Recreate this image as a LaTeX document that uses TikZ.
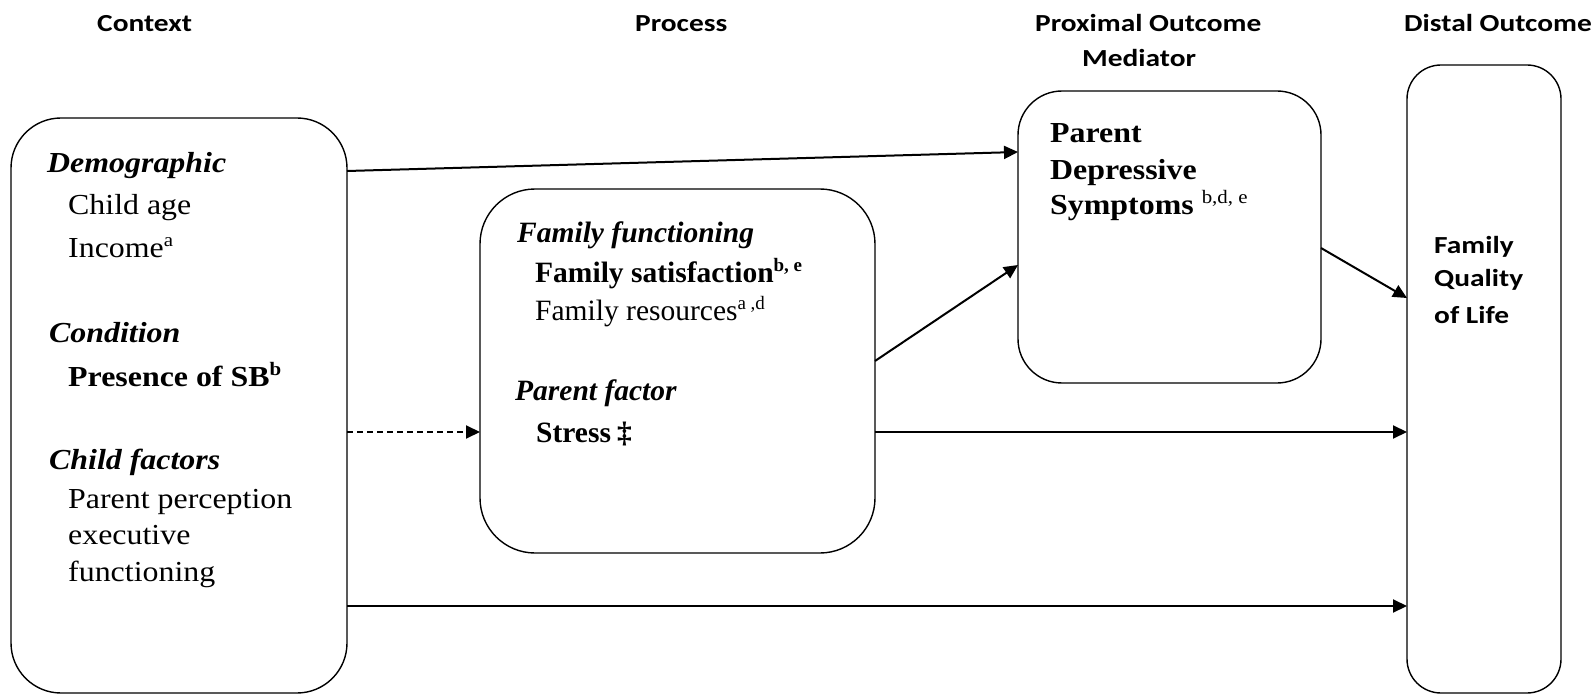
\documentclass[tikz,border=0pt]{standalone}
\usepackage{fontspec}
\setmainfont{Liberation Serif}
\newfontfamily\widefont{Liberation Serif}[FakeStretch=1.1]
\newfontfamily\hdrfont{Carlito}[FakeStretch=1.2]
\usetikzlibrary{arrows.meta}
\newcommand\widefs{\widefont\fontsize{29}{34}\selectfont}
\newcommand\procfs{\fontsize{29.5}{34}\selectfont}
\newcommand\sups[1]{\raisebox{11pt}{\fontsize{19}{19}\selectfont #1}}
\begin{document}
\begin{tikzpicture}[x=1pt,y=-1pt,
  box/.style={draw, line width=1.4pt, inner sep=0pt, outer sep=0pt},
  arr/.style={line width=2pt, -{Triangle[length=14pt,width=13pt]}},
  dasharr/.style={arr, dash pattern=on 6pt off 4pt},
  hdr/.style={anchor=base west, inner sep=0pt, font=\hdrfont\bfseries\fontsize{24.5}{30}\selectfont},
  rg/.style={anchor=base west, inner sep=0pt, font=\widefs},
  bd/.style={anchor=base west, inner sep=0pt, font=\widefs\bfseries},
  bi/.style={anchor=base west, inner sep=0pt, font=\widefs\bfseries\itshape},
  prg/.style={anchor=base west, inner sep=0pt, font=\procfs},
  pbd/.style={anchor=base west, inner sep=0pt, font=\procfs\bfseries},
  pbi/.style={anchor=base west, inner sep=0pt, font=\procfs\bfseries\itshape}]
\useasboundingbox (0,0) rectangle (1596,695);

% boxes
\node[box, rounded corners=50pt, minimum width=336pt, minimum height=575pt] (ctx) at (179,405.5) {};
\node[box, rounded corners=55pt, minimum width=395pt, minimum height=364pt] (proc) at (677.5,371) {};
\node[box, rounded corners=44pt, minimum width=303pt, minimum height=292pt] (med) at (1169.5,237) {};
\node[box, rounded corners=34pt, minimum width=154pt, minimum height=628pt] (dist) at (1484,379) {};

% headers
\node[hdr] (h1) at (97,32) {Context};
\node[hdr] (h2) at (635,32) {Process};
\node[hdr] (h3) at (1035,32) {Proximal Outcome};
\node[hdr] (h3b) at (1082,67) {Mediator};
\node[hdr] (h4) at (1404,32) {Distal Outcome};

% context text
\node[bi] (c1) at (47,173) {Demographic};
\node[rg] (c2) at (68,215) {Child age};
\node[rg] (c3) at (68,258) {Income\sups{a}};
\node[bi] (c4) at (49,342) {Condition};
\node[bd] (c5) at (68,386) {Presence of SB\sups{b}};
\node[bi] (c6) at (49,469) {Child factors};
\node[rg] (c7) at (68,508) {Parent perception};
\node[rg] (c8) at (68,544) {executive};
\node[rg] (c9) at (68,581) {functioning};

% process text
\node[pbi] (p1) at (517,243) {Family functioning};
\node[pbd] (p2) at (535,283) {Family satisfaction\sups{b, e}};
\node[prg] (p3) at (535,320) {Family resources\sups{a ,d}};
\node[pbi] (p4) at (515,400) {Parent factor};
\node[pbd] (p5) at (536,442) {Stress\hspace{6pt}‡};

% mediator text
\node[bd] (m1) at (1050,143) {Parent};
\node[bd] (m2) at (1050,180) {Depressive};
\node[bd] (m3) at (1050,215) {Symptoms \sups{\mdseries b,d, e}};

% distal text
\node[hdr] (d1) at (1434,254) {Family};
\node[hdr] (d2) at (1434,287) {Quality};
\node[hdr] (d3) at (1434,323) {of Life};

% connectors
\draw[arr] ([yshift=234.5pt]ctx.east) -- ([yshift=85pt]med.west);
\draw[arr] ([yshift=10pt]proc.east) -- ([yshift=-28pt]med.west);
\draw[arr] ([yshift=-11pt]med.east) -- ([yshift=81pt]dist.west);
\draw[dasharr] ([yshift=-26.5pt]ctx.east) -- ([yshift=-61pt]proc.west);
\draw[arr] ([yshift=-61pt]proc.east) -- ([yshift=-53pt]dist.west);
\draw[arr] ([yshift=-200.5pt]ctx.east) -- ([yshift=-227pt]dist.west);
\end{tikzpicture}
\end{document}
